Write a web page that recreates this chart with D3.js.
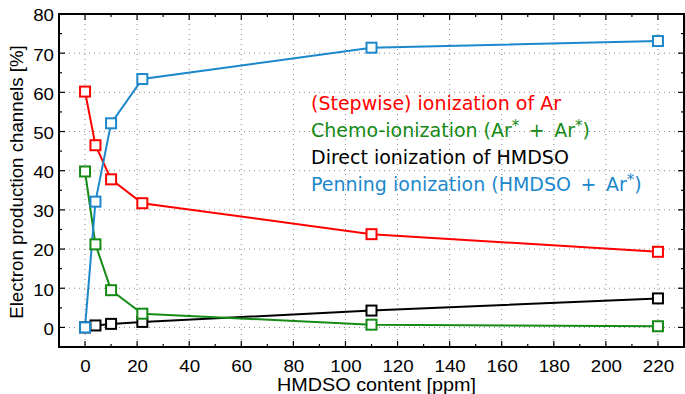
<!DOCTYPE html>
<html><head><meta charset="utf-8">
<script src="https://cdn.jsdelivr.net/npm/d3@7"></script>
<style>body{margin:0;background:#fff}svg{display:block}</style>
</head><body><svg id="c" width="685" height="394"></svg>
<script>
const xValues = [0, 4, 10, 22, 110, 220];
const stepwise = [60.2, 46.5, 37.8, 31.7, 23.8, 19.3];
const chemo = [39.8, 21.2, 9.5, 3.5, 0.7, 0.3];
const direct = [0, 0.5, 0.9, 1.4, 4.3, 7.4];
const penning = [0, 32.1, 52.1, 63.4, 71.4, 73.1];
const xTicks = [0,20,40,60,80,100,120,140,160,180,200,220];
const yTicks = [0,10,20,30,40,50,60,70,80];
// legend pieces: [text, superscript] segments
const seriesNames = [
  [["(Stepwise) ionization of Ar",""]],
  [["Chemo-ionization (Ar","*"],["\u2002+\u2002Ar","*"],[")",""]],
  [["Direct ionization of HMDSO",""]],
  [["Penning ionization (HMDSO\u2002+\u2002Ar","*"],[")",""]]
];
const colors = ["#ff0000","#158a15","#000000","#1c88cc"];

const svg = d3.select("#c");
const L=59,R=684,T=14,B=347;
const x = d3.scaleLinear().domain([-10,230]).range([L,R]);
const y = d3.scaleLinear().domain([-5,80]).range([B,T]);
const g = svg.append("g");
const SX = 1.15;

// grid
const grid = g.append("g").attr("stroke","#888").attr("stroke-width",1).attr("stroke-dasharray","1,4");
xTicks.forEach(t=>grid.append("line").attr("x1",x(t)).attr("x2",x(t)).attr("y1",T).attr("y2",B));
yTicks.forEach(t=>grid.append("line").attr("x1",L).attr("x2",R).attr("y1",y(t)).attr("y2",y(t)));

// axes
const fs = "16.3px";
const ax = g.append("g").attr("transform",`translate(0,${B})`).call(d3.axisBottom(x).tickValues(xTicks).tickSize(0).tickPadding(13));
ax.selectAll("text").attr("font-family","Liberation Sans, Arial, sans-serif").attr("font-size",fs).attr("fill","#000")
  .attr("transform",`scale(${SX},1)`);
ax.select(".domain").remove();
const ay = g.append("g").attr("transform",`translate(${L},0)`).call(d3.axisLeft(y).tickValues(yTicks).tickSize(0).tickPadding(0));
ay.selectAll("text").attr("font-family","Liberation Sans, Arial, sans-serif").attr("font-size",fs).attr("fill","#000")
  .attr("x",-5/SX).attr("dy","0.42em").attr("transform",`scale(${SX},1)`);
ay.select(".domain").remove();

// ticks inward on all sides
const tk = g.append("g").attr("stroke","#000").attr("stroke-width",1.2);
d3.range(-10,231,10).forEach(t=>{
  const len = t%20===0 ? 6 : 3;
  tk.append("line").attr("x1",x(t)).attr("x2",x(t)).attr("y1",B).attr("y2",B-len);
  tk.append("line").attr("x1",x(t)).attr("x2",x(t)).attr("y1",T).attr("y2",T+len);
});
d3.range(-5,81,5).forEach(t=>{
  const len = t%10===0 ? 6 : 3;
  tk.append("line").attr("y1",y(t)).attr("y2",y(t)).attr("x1",L).attr("x2",L+len);
  tk.append("line").attr("y1",y(t)).attr("y2",y(t)).attr("x1",R).attr("x2",R-len);
});
g.append("rect").attr("x",L).attr("y",T).attr("width",R-L).attr("height",B-T).attr("fill","none").attr("stroke","#000").attr("stroke-width",2);

// series
const all = [stepwise, chemo, direct, penning];
const order = [2,1,0,3];
order.forEach(i=>{
  const data = xValues.map((v,k)=>[v, all[i][k]]);
  g.append("path").datum(data).attr("fill","none").attr("stroke",colors[i]).attr("stroke-width",2)
    .attr("d", d3.line().x(d=>x(d[0])).y(d=>y(d[1])));
});
order.forEach(i=>{
  const data = xValues.map((v,k)=>[v, all[i][k]]);
  g.selectAll(null).data(data).enter().append("rect")
    .attr("x",d=>x(d[0])-5).attr("y",d=>y(d[1])-5).attr("width",10).attr("height",10)
    .attr("fill","#fff").attr("stroke",colors[i]).attr("stroke-width",2);
});

// legend
const leg = g.append("g").attr("font-family","DejaVu Sans, sans-serif").attr("font-size","19px");
seriesNames.forEach((segs,i)=>{
  const t = leg.append("text").attr("x",311).attr("y",109.5+i*27.2).attr("fill",colors[i]).attr("xml:space","preserve");
  let pending = 0;
  segs.forEach(([s,sup])=>{
    t.append("tspan").attr("dy",pending).text(s);
    pending = 0;
    if(sup){
      t.append("tspan").attr("dy",-6).attr("font-size","15px").text(sup);
      pending = 6;
    }
  });
});

// axis titles
g.append("text").attr("transform",`translate(${(L+R)/2 + 5},391) scale(1.1,1)`).attr("text-anchor","middle")
  .attr("font-family","Liberation Sans, Arial, sans-serif").attr("font-size","18px").text("HMDSO content [ppm]");
g.append("text").attr("transform",`translate(23,182) rotate(-90) scale(1.04,1)`).attr("text-anchor","middle")
  .attr("font-family","Liberation Sans, Arial, sans-serif").attr("font-size","18px").text("Electron production channels [%]");
</script></body></html>
